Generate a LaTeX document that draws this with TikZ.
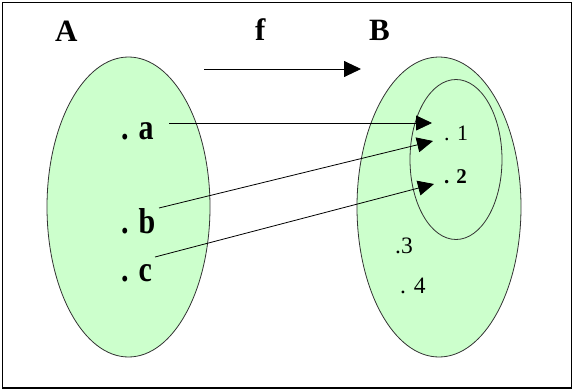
\documentclass[tikz,border=0pt]{standalone}
\usepackage{fontspec}
\usepackage{graphicx}
\setmainfont{Liberation Serif}
\usetikzlibrary{arrows.meta,shapes.geometric}
\definecolor{setgreen}{HTML}{CCFFCC}
\begin{document}
\begin{tikzpicture}[x=1pt,y=-1pt,
  setshape/.style={ellipse, draw=black!80, line width=0.8pt, fill=setgreen, inner sep=0pt},
  big/.style={anchor=base west, inner sep=0pt, font=\fontsize{31}{31}\bfseries\selectfont},
  elem/.style={anchor=base west, inner sep=0pt, font=\fontsize{30}{30}\bfseries\selectfont},
  num/.style={anchor=base west, inner sep=0pt, font=\fontsize{22}{22}\selectfont},
  numl/.style={anchor=base west, inner sep=0pt, font=\fontsize{23.5}{23.5}\selectfont},
  numb/.style={anchor=base west, inner sep=0pt, font=\fontsize{21}{21}\bfseries\selectfont},
  arr/.style={-{Triangle[length=16pt,width=15pt]}, line width=0.8pt},
  bigarr/.style={-{Triangle[length=17pt,width=16pt]}, line width=0.9pt}
]
\useasboundingbox (0,0) rectangle (574,391);
\node[draw, line width=1.4pt, minimum width=569pt, minimum height=385.5pt, inner sep=0pt] (frame) at (287,195.25) {};

\node[setshape, minimum width=163pt, minimum height=300pt] (setA) at (128.5,207) {};
\node[setshape, minimum width=164pt, minimum height=300pt] (setB) at (439,207) {};
\node[setshape, minimum width=92pt, minimum height=160pt] (setC) at (456,159.5) {};

\node[big] (labA) at (55,41) {A};
\node[big] (labf) at (255,40) {f};
\node[big] (labB) at (369,40) {B};

\node[elem] (ea) at (121,139) {\scalebox{1}[1.2]{. a}};
\node[elem] (eb) at (121,233) {\scalebox{1}[1.2]{. b}};
\node[elem] (ec) at (121,281) {\scalebox{1}[1.2]{. c}};

\node[num] (e1) at (444,140) {.\,\,1};
\node[numb] (e2) at (444,183) {. 2};
\node[numl] (e3) at (395,253) {.3};
\node[numl] (e4) at (400,293) {.\,\,4};

\coordinate (fs) at (204,69);
\coordinate (fe) at (361,69);
\coordinate (sa) at (169,123);
\coordinate (ta) at (432,123);
\coordinate (sb) at (159,208);
\coordinate (tb) at (433,141);
\coordinate (sc) at (155,257);
\coordinate (tc) at (434,184);

\draw[bigarr] (fs) -- (fe);
\draw[arr] (sa) -- (ta);
\draw[arr] (sb) -- (tb);
\draw[arr] (sc) -- (tc);
\end{tikzpicture}
\end{document}
